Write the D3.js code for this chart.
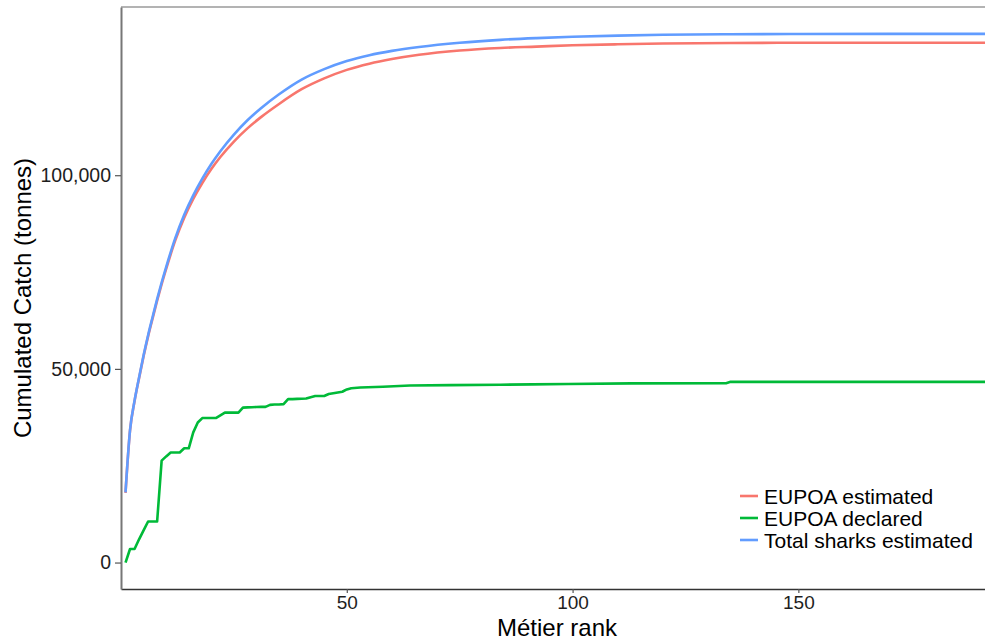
<!DOCTYPE html>
<html>
<head>
<meta charset="utf-8">
<script src="https://cdn.jsdelivr.net/npm/d3@7"></script>
<style>
  html, body { margin: 0; padding: 0; background: #fff; }
  svg { display: block; font-family: "Liberation Sans", Arial, sans-serif; }
</style>
</head>
<body>
<svg id="chart" width="985" height="642"></svg>
<script>
// Cumulated catch by métier rank
const seriesNames = ["EUPOA estimated", "EUPOA declared", "Total sharks estimated"];
const seriesColors = ["#F8766D", "#00BA38", "#619CFF"];

// ranks at which the estimated curves are given
const rankEstimated = [1, 2, 3, 4, 5, 6, 7, 8, 9, 10, 12, 14, 16, 18, 20, 22, 25, 28, 31, 35, 40, 45,
  50, 55, 60, 66, 75, 84, 92, 100, 110, 120, 135, 150, 170, 194];
const totalSharksEstimated = [18100, 34200, 41800, 47800, 53500, 58700, 63400, 68000, 72300, 76300,
  83700, 89800, 94800, 99100, 102900, 106200, 110500, 114200, 117300, 120900, 124700, 127400,
  129500, 131000, 132100, 133100, 134200, 134950, 135400, 135750, 136050, 136250, 136400, 136470,
  136500, 136500];
const eupoaEstimated = [18000, 34100, 41650, 47600, 53250, 58400, 63050, 67600, 71850, 75800,
  83100, 89050, 93900, 98000, 101600, 104700, 108700, 112100, 115000, 118400, 122200, 125000,
  127200, 128800, 130000, 131100, 132200, 132850, 133200, 133550, 133800, 134000, 134150, 134190,
  134200, 134200];

// declared catch, step-like
const rankDeclared = [1, 2, 3, 4, 5, 6, 7, 8, 9, 10, 11, 12, 13, 14, 15, 16, 17, 18, 19, 20, 21, 22, 23,
  24, 25, 26, 27, 28, 29, 30, 31, 32, 33, 34, 35, 36, 37, 38, 39, 40, 41, 42, 43, 44, 45, 46, 47, 48,
  49, 50, 51, 53, 58, 64, 73, 84, 91, 99, 113, 134, 135, 194];
const eupoaDeclared = [0, 3500, 3500, 6000, 8300, 10600, 10600, 10600, 26300, 27400, 28400, 28400,
  28400, 29500, 29500, 33600, 36150, 37300, 37300, 37300, 37300, 38000, 38700, 38700, 38700, 38700,
  40000, 40050, 40100, 40150, 40200, 40200, 40700, 40800, 40800, 40900, 42200, 42200, 42250, 42300,
  42350, 42700, 43000, 43000, 43000, 43500, 43700, 43900, 44100, 44700, 45000, 45200, 45400, 45700,
  45800, 45900, 46000, 46100, 46250, 46300, 46650, 46650];

const xTicks = [50, 100, 150];
const yTicks = [0, 50000, 100000];

const series = [
  { name: seriesNames[0], color: seriesColors[0], x: rankEstimated, y: eupoaEstimated, smooth: true },
  { name: seriesNames[1], color: seriesColors[1], x: rankDeclared, y: eupoaDeclared, smooth: false },
  { name: seriesNames[2], color: seriesColors[2], x: rankEstimated, y: totalSharksEstimated, smooth: true }
];

const svg = d3.select("#chart");
const panel = { left: 121, right: 993, top: 7, bottom: 589 };

const x = d3.scaleLinear().domain([0, 193.1]).range([panel.left, panel.right]);
const y = d3.scaleLinear().domain([-6830, 143430]).range([panel.bottom, panel.top]);

// top edge of the panel
svg.append("line").attr("x1", panel.left).attr("x2", panel.right)
  .attr("y1", panel.top).attr("y2", panel.top)
  .attr("stroke", "#9a9a9a").attr("stroke-width", 1.5);

// series lines
svg.append("clipPath").attr("id", "clip").append("rect")
  .attr("x", panel.left).attr("y", panel.top)
  .attr("width", panel.right - panel.left).attr("height", panel.bottom - panel.top);

const plot = svg.append("g").attr("clip-path", "url(#clip)");
series.forEach(s => {
  const line = d3.line()
    .x(d => x(d[0])).y(d => y(d[1]))
    .curve(s.smooth ? d3.curveMonotoneX : d3.curveLinear);
  plot.append("path")
    .datum(s.x.map((r, i) => [r, s.y[i]]))
    .attr("fill", "none")
    .attr("stroke", s.color)
    .attr("stroke-width", 2.6)
    .attr("stroke-linejoin", "round")
    .attr("d", line);
});

// axes
const xAxis = svg.append("g")
  .attr("transform", `translate(0,${panel.bottom})`)
  .call(d3.axisBottom(x).tickValues(xTicks).tickSize(4).tickSizeOuter(0).tickPadding(3)
    .tickFormat(d3.format("d")));
const yAxis = svg.append("g")
  .attr("transform", `translate(${panel.left},0)`)
  .call(d3.axisLeft(y).tickValues(yTicks).tickSize(6).tickSizeOuter(0).tickPadding(4)
    .tickFormat(d3.format(",")));

xAxis.select(".domain").attr("stroke", "#333").attr("stroke-width", 1.5);
yAxis.select(".domain").attr("stroke", "#777").attr("stroke-width", 2);
[xAxis, yAxis].forEach(a => {
  a.selectAll(".tick line").attr("stroke", "#555").attr("stroke-width", 1.2);
  a.selectAll(".tick text").attr("fill", "#1e1e1e")
    .style("font-family", "'Liberation Sans', Arial, sans-serif");
});
xAxis.selectAll(".tick text").style("font-size", "19px");
yAxis.selectAll(".tick text").style("font-size", "19.5px");

// axis titles
svg.append("text")
  .attr("x", (panel.left + panel.right) / 2).attr("y", 636)
  .attr("text-anchor", "middle").attr("fill", "#000")
  .style("font-size", "24px")
  .text("Métier rank");
svg.append("text")
  .attr("transform", `translate(31,${(panel.top + panel.bottom) / 2}) rotate(-90)`)
  .attr("text-anchor", "middle").attr("fill", "#000")
  .style("font-size", "24px")
  .text("Cumulated Catch (tonnes)");

// legend
const legend = svg.append("g").attr("transform", "translate(740,496)");
series.forEach((s, i) => {
  const g = legend.append("g").attr("transform", `translate(0,${i * 22})`);
  g.append("line").attr("x1", 0).attr("x2", 18).attr("y1", 0).attr("y2", 0)
    .attr("stroke", s.color).attr("stroke-width", 2.6);
  g.append("text").attr("x", 24).attr("y", 7.5)
    .attr("fill", "#000").style("font-size", "21px")
    .text(s.name);
});
</script>
</body>
</html>
